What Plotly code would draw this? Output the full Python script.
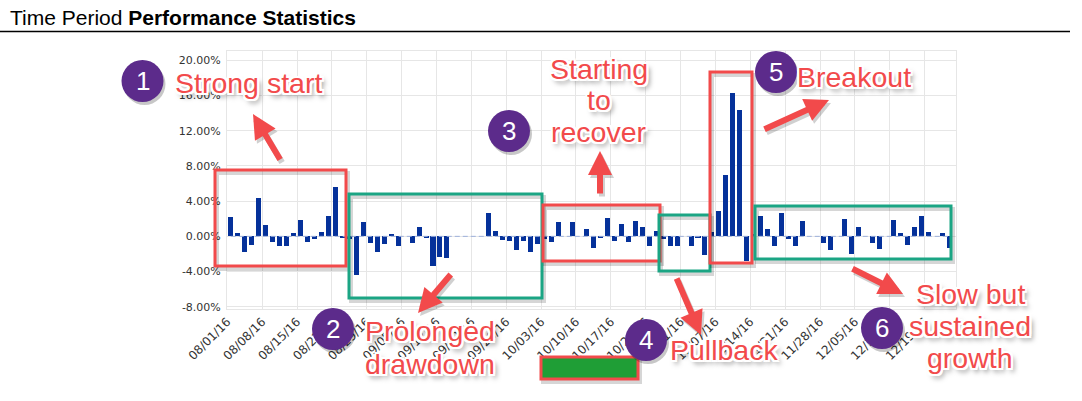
import pandas as pd
import plotly.graph_objects as go

# ---------------- data ----------------
trade_days = pd.bdate_range("2016-08-01", "2016-12-22")   # business days (ordinal axis)
daily_return_pct = [
    2.2, 0.35, -1.75, -1.0, 4.3,
    1.25, -0.6, -1.1, -1.1, 0.4,
    1.85, -0.65, -0.35, 0.45, 2.3,
    5.6, -0.1, -0.3, -4.4, 1.6,
    -0.75, -1.75, -0.85, 0.25, -1.05,
    0.0, -0.7, 1.05, -0.2, -3.35,
    -2.3, -2.5, 0.0, 0.0, 0.0,
    0.0, 0.0, 2.6, 0.6, -0.45,
    -0.5, -1.6, -0.5, -1.75, -0.85,
    -0.3, -0.6, 1.65, 0.0, 1.6,
    0.0, 0.8, -1.35, -0.2, 2.05,
    -0.5, 1.4, -0.6, 1.75, 1.1,
    -1.1, 0.65, -0.3, -1.05, -1.05,
    0.0, -1.05, -0.2, -2.1, 0.5,
    2.85, 7.0, 16.3, 14.4, -2.75,
    0.3, 2.3, 0.85, -1.1, 2.65,
    -0.35, -1.1, 1.8, 0.0, 0.0,
    -0.8, -1.6, 0.0, 2.0, -2.0,
    1.1, 0.0, -0.7, -1.45, 0.0,
    1.9, 0.4, -1.0, 1.05, 2.3,
    0.45, 0.0, 0.4, -1.35,
]
y_ticks = [-8, -4, 0, 4, 8, 12, 16, 20]

callout_numbers = ["1", "2", "3", "4", "5", "6"]
callout_lines = [
    ["Strong start"],
    ["Prolonged", "drawdown"],
    ["Starting", "to", "recover"],
    ["Pullback"],
    ["Breakout"],
    ["Slow but", "sustained", "growth"],
]

# ---------------- layout helpers (pixel -> paper) ----------------
W, H = 1082, 401
L, R, T, B = 227, 956, 51, 309


def px(x):
    return (x - L) / (R - L)


def py(y):
    return (B - y) / (B - T)


RED = "#f24a4b"
TEAL = "#1ba584"
PURPLE = "#5c2b8b"
FONT = "Liberation Sans, Arial, sans-serif"
YTICKFONT = dict(family="DejaVu Sans, Verdana, sans-serif", size=11, color="#333333")
XTICKFONT = dict(family="DejaVu Sans, Verdana, sans-serif", size=12, color="#333333")
SHADOW = ("2px 0 0 #fff, -2px 0 0 #fff, 0 2px 0 #fff, 0 -2px 0 #fff, "
          "2px 2px 0 #fff, -2px -2px 0 #fff, 2px -2px 0 #fff, -2px 2px 0 #fff, "
          "3px 4px 5px rgba(0,0,0,0.5)")

bar_x = trade_days + pd.Timedelta(hours=12)

fig = go.Figure()
fig.add_trace(go.Scatter(
    x=bar_x, y=[0] * len(bar_x), mode="lines",
    line=dict(color="#9fb2dc", width=1, dash="5px,3px"),
    hoverinfo="skip", showlegend=False,
))
fig.add_trace(go.Bar(
    x=bar_x, y=daily_return_pct,
    width=0.72 * 86400000,
    marker=dict(color="#05319a", line=dict(width=0)),
    showlegend=False,
))

shapes = []
annotations = []

# title + underline
annotations.append(dict(
    text="Time Period <b>Performance Statistics</b>", xref="paper", yref="paper",
    x=px(8), y=py(17.5), xanchor="left", yanchor="middle", showarrow=False,
    font=dict(family=FONT, size=21, color="#000000"),
))
shapes.append(dict(type="line", xref="paper", yref="paper",
                   x0=px(0), x1=px(1070), y0=py(31.5), y1=py(31.5),
                   line=dict(color="#000000", width=1.5)))


def box(x0, y0, x1, y1, color, fill=None):
    shapes.append(dict(type="rect", xref="paper", yref="paper",
                       x0=px(x0 + 2), x1=px(x1 + 2), y0=py(y1 + 3), y1=py(y0 + 3),
                       line=dict(color="rgba(0,0,0,0.16)", width=4)))
    shapes.append(dict(type="rect", xref="paper", yref="paper",
                       x0=px(x0), x1=px(x1), y0=py(y1), y1=py(y0),
                       line=dict(color=color, width=3),
                       fillcolor=fill if fill else "rgba(0,0,0,0)"))


box(215, 170, 346, 266, RED)
box(349, 194, 542, 298, TEAL)
box(543, 205, 660, 261, RED)
box(659, 215, 710, 271, TEAL)
box(710, 72, 752, 263, RED)
box(755, 206, 951, 259, TEAL)
box(541, 357, 638, 379, RED, fill="#1f9e36")


def arrow(tx, ty, hx, hy):
    for dx, dy, col in ((2, 3, "rgba(0,0,0,0.18)"), (0, 0, RED)):
        annotations.append(dict(
            text="", xref="paper", yref="paper",
            x=px(hx + dx), y=py(hy + dy), ax=tx - hx, ay=ty - hy,
            axref="pixel", ayref="pixel", showarrow=True,
            arrowhead=2, arrowwidth=6, arrowsize=0.8, arrowcolor=col, standoff=0,
        ))


arrow(281, 161, 253, 114)
arrow(452, 273, 418, 313)
arrow(600, 195, 600, 151)
arrow(676, 277, 701, 335)
arrow(763, 130, 829, 100)
arrow(851, 268, 903, 294)

circle_centers = [(142.5, 81), (333, 329), (509, 131), (646, 340), (776, 72), (882, 328)]
text_centers_x = [248, 430, 599, 724, 854, 970]
text_lines_y = [[82.5], [331, 364], [68.5, 99.5, 132], [350], [77], [294, 326, 358]]

RAD = 21
for num, (cx, cy) in zip(callout_numbers, circle_centers):
    shapes.append(dict(type="circle", xref="paper", yref="paper",
                       x0=px(cx - RAD + 2), x1=px(cx + RAD + 2),
                       y0=py(cy + RAD + 3), y1=py(cy - RAD + 3),
                       fillcolor="rgba(0,0,0,0.22)", line=dict(width=0)))
    shapes.append(dict(type="circle", xref="paper", yref="paper",
                       x0=px(cx - RAD), x1=px(cx + RAD), y0=py(cy + RAD), y1=py(cy - RAD),
                       fillcolor=PURPLE, line=dict(width=0)))
    annotations.append(dict(
        text=num, xref="paper", yref="paper", x=px(cx), y=py(cy),
        xanchor="center", yanchor="middle", showarrow=False,
        font=dict(family=FONT, size=26, color="#ffffff"),
    ))

for lines, tx, ys in zip(callout_lines, text_centers_x, text_lines_y):
    for line, ty in zip(lines, ys):
        annotations.append(dict(
            text=line, xref="paper", yref="paper", x=px(tx), y=py(ty),
            xanchor="center", yanchor="middle", showarrow=False,
            font=dict(family=FONT, size=28.5, color=RED, shadow=SHADOW),
        ))

fig.update_layout(
    width=W, height=H, autosize=False,
    margin=dict(l=L, r=W - R, t=T, b=H - B, autoexpand=False),
    paper_bgcolor="#ffffff", plot_bgcolor="#ffffff",
    bargap=0, showlegend=False,
    shapes=shapes, annotations=annotations,
    xaxis=dict(
        type="date",
        range=["2016-07-29 23:00", "2016-12-23 12:00"],
        rangebreaks=[dict(bounds=["sat", "mon"])],
        tick0="2016-08-01", dtick=7 * 86400000,
        tickformat="%m/%d/%y", tickangle=-45,
        tickfont=XTICKFONT,
        showgrid=True, gridcolor="#e6e6e6", gridwidth=1,
        showline=True, mirror=True, linecolor="#e6e6e6", linewidth=1,
        ticks="", zeroline=False,
    ),
    yaxis=dict(
        range=[-8.25, 21.05],
        tickvals=y_ticks, ticktext=[f"{v:.2f}%" for v in y_ticks],
        tickfont=YTICKFONT,
        showgrid=True, gridcolor="#e6e6e6", gridwidth=1,
        showline=True, mirror=True, linecolor="#e6e6e6", linewidth=1,
        zeroline=False, ticks="", ticklabelstandoff=3,
    ),
)

fig.write_html("out.html", config={"displayModeBar": False},
               post_script="document.body.style.margin='0';")
